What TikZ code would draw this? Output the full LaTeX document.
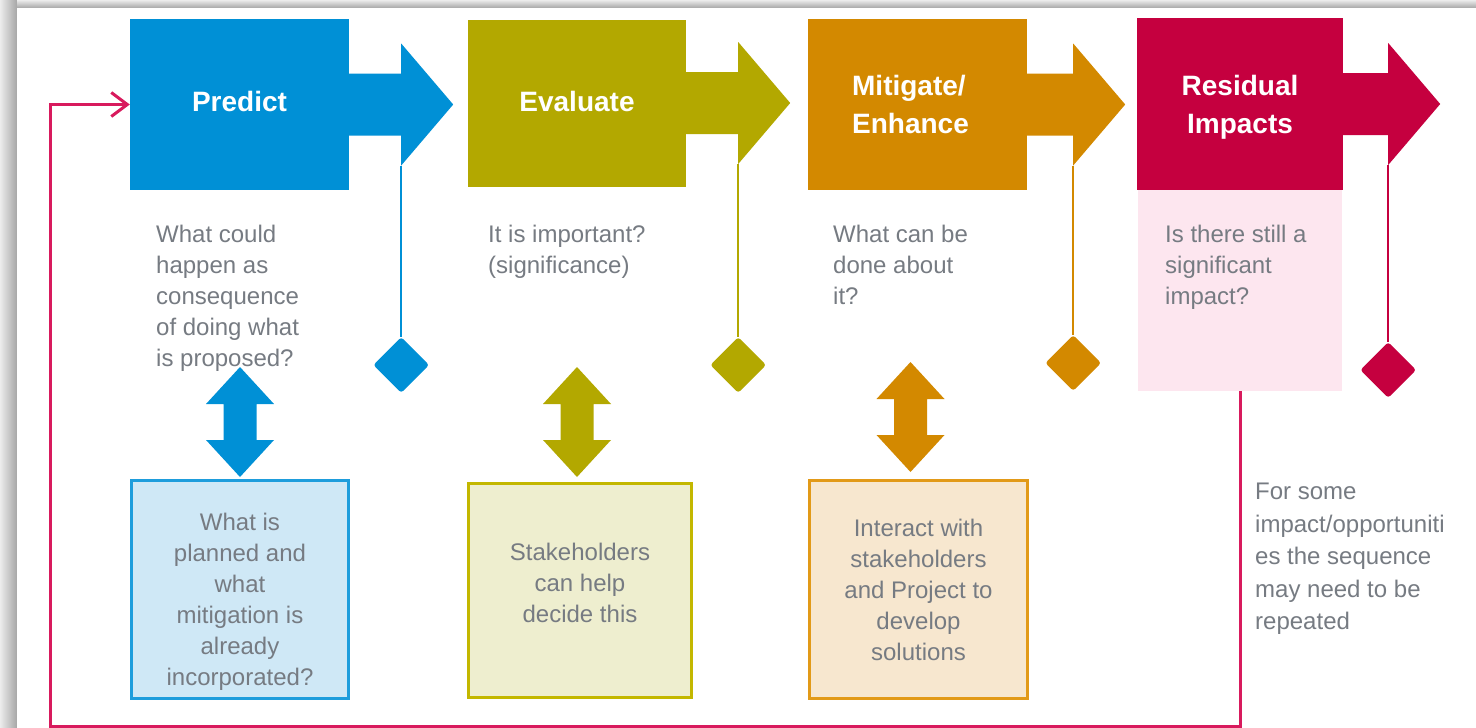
\documentclass[tikz,border=0pt]{standalone}
\usepackage{fontspec}
\setmainfont{Liberation Sans}
\usetikzlibrary{arrows.meta,positioning,calc,shapes.geometric}
\definecolor{pBlue}{HTML}{0090D6}
\definecolor{pOlive}{HTML}{B3A800}
\definecolor{pOrange}{HTML}{D38900}
\definecolor{pCrim}{HTML}{C5003F}
\definecolor{lBlue}{HTML}{CFE8F6}
\definecolor{lOlive}{HTML}{EEEECF}
\definecolor{lOrange}{HTML}{F7E7CF}
\definecolor{lPink}{HTML}{FDE6EF}
\definecolor{bBlue}{HTML}{1E9DDC}
\definecolor{bOlive}{HTML}{C3B700}
\definecolor{bOrange}{HTML}{E29A18}
\definecolor{loopRed}{HTML}{D81A5D}
\definecolor{inkG}{HTML}{767B82}
\definecolor{frameG}{HTML}{BEBEBE}
\tikzset{
  stagebox/.style={minimum height=171pt, inner sep=0pt, text=white,
                   align=center, font=\fontsize{28}{38}\selectfont\bfseries},
  ask/.style={anchor=north west, inner sep=0pt, align=left, text=inkG,
              font=\fontsize{24}{31}\selectfont},
  notebox/.style={line width=3pt, inner sep=0pt},
  notetext/.style={inner sep=0pt, align=center, text=inkG,
                   font=\fontsize{24}{31}\selectfont},
  stem/.style={line width=2.5pt},
  gate/.style={diamond, inner sep=0pt, minimum width=56pt, minimum height=56pt,
               rounded corners=3pt},
  backflow/.style={loopRed, line width=3pt,
                   -{Straight Barb[length=16pt, width=24pt, line width=3pt]}},
}

\begin{document}
\begin{tikzpicture}[x=1pt, y=-1pt]
  \useasboundingbox (0,0) rectangle (1476,728);
  % window frame
  \fill[frameG] (0,0) rectangle (1476,728);
  \fill[left color=gray!15, right color=gray!70] (0,0) rectangle (17,728);
  \fill[top color=gray!15, bottom color=gray!70] (17,0) rectangle (1476,8);
  \fill[white] (17,8) rectangle (1476,728);

  % stages
  \node[stagebox, fill=pBlue, minimum width=219pt, text depth=6pt] (p) at (239.5,104.5) {Predict};
  \node[stagebox, fill=pOlive, minimum width=218pt, minimum height=167pt, text depth=4pt] (e) at (577,103) {Evaluate};
  \node[stagebox, fill=pOrange, minimum width=219pt, align=left] (m) at (917.5,104.5)
    {Mitigate/\\Enhance\hspace*{14pt}};
  \node[stagebox, fill=pCrim, minimum width=206pt, minimum height=172pt, text depth=0pt] (r) at (1240,104)
    {Residual\\Impacts};
  \node[fill=lPink, minimum width=204pt, minimum height=201pt, inner sep=0pt] (r-info) at (1240,290.5) {};

  % arrow heads, stems and diamonds
  \foreach \s/\c/\d/\g in {p/pBlue/52/365, e/pOlive/52/365, m/pOrange/46/363, r/pCrim/45/370} {
    \fill[\c, shift={(\s.east)}] (-1,-31) -- (\d,-31) -- (\d,-61) -- (\d+52,0)
      -- (\d,61) coordinate (\s-hb) -- (\d,31) -- (-1,31) -- cycle;
    \node[gate, fill=\c] (\s-gate) at (\s-hb |- 0,\g) {};
    \draw[stem, \c] (\s-hb) -- (\s-gate.north);
  }

  % questions
  \node[ask] (p-ask) at (156,225) {What could\\happen as\\consequence\\of doing what\\is proposed?};
  \node[ask] (e-ask) at (488,225) {It is important?\\(significance)};
  \node[ask] (m-ask) at (833,225) {What can be\\done about\\it?};
  \node[ask] (r-ask) at (1165,225) {Is there still a\\significant\\impact?};

  % lower boxes
  \node[notebox, draw=bBlue, fill=lBlue, minimum width=217pt, minimum height=218pt,
        label={[notetext, yshift=-12pt]center:{What is\\planned and\\what\\mitigation is\\already\\incorporated?}}]
    (p-info) at (240,589.5) {};
  \node[notebox, draw=bOlive, fill=lOlive, minimum width=223pt, minimum height=214pt,
        label={[notetext, yshift=8pt]center:{Stakeholders\\can help\\decide this}}]
    (e-info) at (580,590.5) {};
  \node[notebox, draw=bOrange, fill=lOrange, minimum width=218pt, minimum height=218pt,
        label={[notetext]center:{Interact with\\stakeholders\\and Project to\\develop\\solutions}}]
    (m-info) at (918.5,589.5) {};

  % double arrows
  \foreach \s/\c/\ox/\gy in {p/pBlue/0/2, e/pOlive/-3/5, m/pOrange/-8/7} {
    \fill[\c, shift={($(\s-info.north)+(\ox,-\gy)$)}] (0,0) -- (-34,-37) -- (-16.5,-37)
      -- (-16.5,-73) -- (-34,-73) -- (0,-110) -- (34,-73) -- (16.5,-73)
      -- (16.5,-37) -- (34,-37) -- cycle;
  }

  \node[ask, font=\fontsize{24}{32.5}\selectfont] (r-more) at (1255,483)
    {For some\\impact/opportuniti\\es the sequence\\may need to be\\repeated};

  % loop back to the start
  \coordinate (back) at (50,726);
  \draw[backflow] (r-info.south) |- (back) |- (p.west);
\end{tikzpicture}
\end{document}
